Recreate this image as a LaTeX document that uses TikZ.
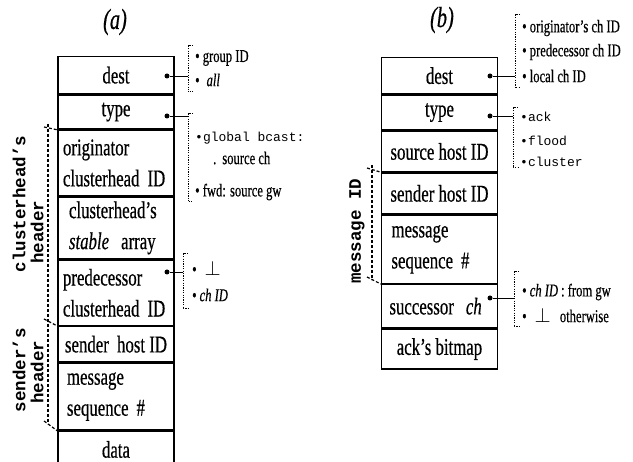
\documentclass[tikz,border=0pt]{standalone}
\usepackage{fontspec}
\setmainfont{Liberation Serif}
\newfontfamily\narrowserif[FakeStretch=0.7,FakeBold=0.5]{Liberation Serif}
\newfontfamily\typefont{Liberation Mono}
\usetikzlibrary{positioning}
\tikzset{
  field/.style={draw,line width=1.4pt,minimum width=116pt,minimum height=#1,
    inner sep=0pt,align=center,font=\narrowserif\fontsize{24}{31}\selectfont},
  field/.default=36pt,
  twoline/.style={text width=108pt,align=left},
  tapdot/.style={circle,fill,inner sep=0pt,minimum size=5pt},
  tie/.style={line width=0.8pt},
  brk/.style={line width=1pt,dash pattern=on 1.2pt off 1.2pt},
  spanline/.style={line width=1.2pt,dash pattern=on 3pt off 2pt},
  opt/.style={anchor=west,inner sep=0pt,font=\narrowserif\fontsize{18}{20}\selectfont},
  kw/.style={anchor=west,inner sep=0pt,font=\typefont\fontsize{13}{15}\selectfont},
  side/.style={rotate=90,inner sep=0pt,font=\typefont\bfseries\fontsize{17.5}{19}\selectfont},
  paneltitle/.style={font=\narrowserif\itshape\fontsize{29}{30}\selectfont},
}
\newcommand{\bigperp}{{\fontsize{22}{22}\selectfont$\perp$}}

\begin{document}
\begin{tikzpicture}[x=1pt,y=-1pt]
  \useasboundingbox (0,0) rectangle (633,462);
  % (a) packet
  \node[paneltitle] (ta) at (115,22) {(a)};
  \node[field=37pt,anchor=north] (adest) at (116,56) {dest};
  \node[field=34pt,below=0pt of adest] (atype) {type};
  \node[field=65pt,twoline,below=0pt of atype] (aorig) {\hspace*{1pt}originator\\\hspace*{1pt}clusterhead ID};
  \node[field=62pt,twoline,below=0pt of aorig] (astab) {\hspace*{7pt}clusterhead’s\\\hspace*{7pt}\textit{stable}\, array};
  \node[field=65pt,twoline,below=0pt of astab] (apred) {\hspace*{1pt}predecessor\\\hspace*{1pt}clusterhead ID};
  \node[field=35pt,below=0pt of apred] (asnd) {sender\, host ID};
  \node[field=67pt,twoline,below=0pt of asnd] (amsg) {\hspace*{5pt}message\\\hspace*{5pt}sequence \#};
  \node[field=36pt,below=0pt of amsg] (adata) {data};

  \node[tapdot] (adot1) at (167,76) {};
  \node[tapdot] (adot2) at (167,116) {};
  \node[tapdot] (adot3) at (167,272) {};

  % choices for dest
  \coordinate (b1t) at (188,46);
  \coordinate (b1b) at (188,92);
  \draw[brk] ([xshift=5]b1t) -- (b1t) -- (b1b) -- ([xshift=5]b1b);
  \draw[tie] (adot1) -- (adot1 -| b1t);
  \node[opt] (o11) at (195,58) {• group ID};
  \node[opt] (o12) at (195,80) {•\hspace{7pt}\textit{all}};
  % choices for type
  \coordinate (b2t) at (188,114);
  \coordinate (b2b) at (188,202);
  \draw[brk] ([xshift=5]b2t) -- (b2t) -- (b2b) -- ([xshift=5]b2b);
  \draw[tie] (adot2) -- (adot2 -| b2t);
  \node[kw] (o21) at (195,138) {•global bcast:};
  \node[opt] (o22) at (213,158) {.\hspace{6pt}source ch};
  \node[opt] (o23) at (195,192) {• fwd: source gw};
  % choices for predecessor
  \coordinate (b3t) at (183,254);
  \coordinate (b3b) at (183,309);
  \draw[brk] ([xshift=5]b3t) -- (b3t) -- (b3b) -- ([xshift=5]b3b);
  \draw[tie] (adot3) -- (adot3 -| b3t);
  \node[opt] (o31) at (192,268) {•\hspace{8pt}\bigperp};
  \node[opt] (o32) at (192,295) {•\,\textit{ch ID}};

  % header spans
  \draw[spanline] (48,124) -- (48,424);
  \draw[spanline] (44,127) -- (aorig.north west);
  \draw[spanline] (44,319) -- (asnd.north west);
  \draw[spanline] (44,421) -- (adata.north west);
  \node[side] (lclu) at (19,204) {clusterhead’s};
  \node[side] (lhd1) at (37,232) {header};
  \node[side] (lsnd) at (19,370) {sender’s};
  \node[side] (lhd2) at (37,372) {header};

  % (b) packet
  \node[paneltitle] (tb) at (442,20) {(b)};
  \node[field=36pt,anchor=north] (bdest) at (439.5,57) {dest};
  \node[field=35pt,below=0pt of bdest] (btype) {type};
  \node[field=40pt,below=0pt of btype] (bsrc) {source host ID};
  \node[field=41pt,below=0pt of bsrc] (bsnd) {sender host ID};
  \node[field=68pt,twoline,below=0pt of bsnd] (bmsg) {\hspace*{6pt}message\\\hspace*{6pt}sequence \#};
  \node[field=43pt,twoline,below=0pt of bmsg] (bsucc) {\hspace*{4pt}successor\, \textit{ch}};
  \node[field=40pt,below=0pt of bsucc] (back) {ack’s bitmap};

  \node[tapdot] (bdot1) at (490,76) {};
  \node[tapdot] (bdot2) at (490,116) {};
  \node[tapdot] (bdot3) at (490,298) {};

  % choices for dest
  \coordinate (b4t) at (515,15);
  \coordinate (b4b) at (515,88);
  \draw[brk] ([xshift=5]b4t) -- (b4t) -- (b4b) -- ([xshift=5]b4b);
  \draw[tie] (bdot1) -- (bdot1 -| b4t);
  \node[opt] (o41) at (522,28) {• originator’s ch ID};
  \node[opt] (o42) at (522,52) {• predecessor ch ID};
  \node[opt] (o43) at (522,76) {• local ch ID};
  % choices for type
  \coordinate (b5t) at (513,108);
  \coordinate (b5b) at (513,168);
  \draw[brk] ([xshift=5]b5t) -- (b5t) -- (b5b) -- ([xshift=5]b5b);
  \draw[tie] (bdot2) -- (bdot2 -| b5t);
  \node[kw] (o51) at (520,117) {•ack};
  \node[kw] (o52) at (520,141) {•flood};
  \node[kw] (o53) at (520,162) {•cluster};
  % choices for successor
  \coordinate (b6t) at (514,272);
  \coordinate (b6b) at (514,327);
  \draw[brk] ([xshift=5]b6t) -- (b6t) -- (b6b) -- ([xshift=5]b6b);
  \draw[tie] (bdot3) -- (bdot3 -| b6t);
  \node[opt] (o61) at (522,292) {• \textit{ch ID}\,: from gw};
  \node[opt] (o62) at (522,315) {•\hspace{8pt}\bigperp\hspace{6pt} otherwise};

  % message ID span
  \draw[spanline] (372,165) -- (372,280);
  \draw[spanline] (367,168) -- (bsnd.north west);
  \draw[spanline] (367,277) -- (bsucc.north west);
  \node[side] (lmid) at (357,231) {message ID};
\end{tikzpicture}
\end{document}
